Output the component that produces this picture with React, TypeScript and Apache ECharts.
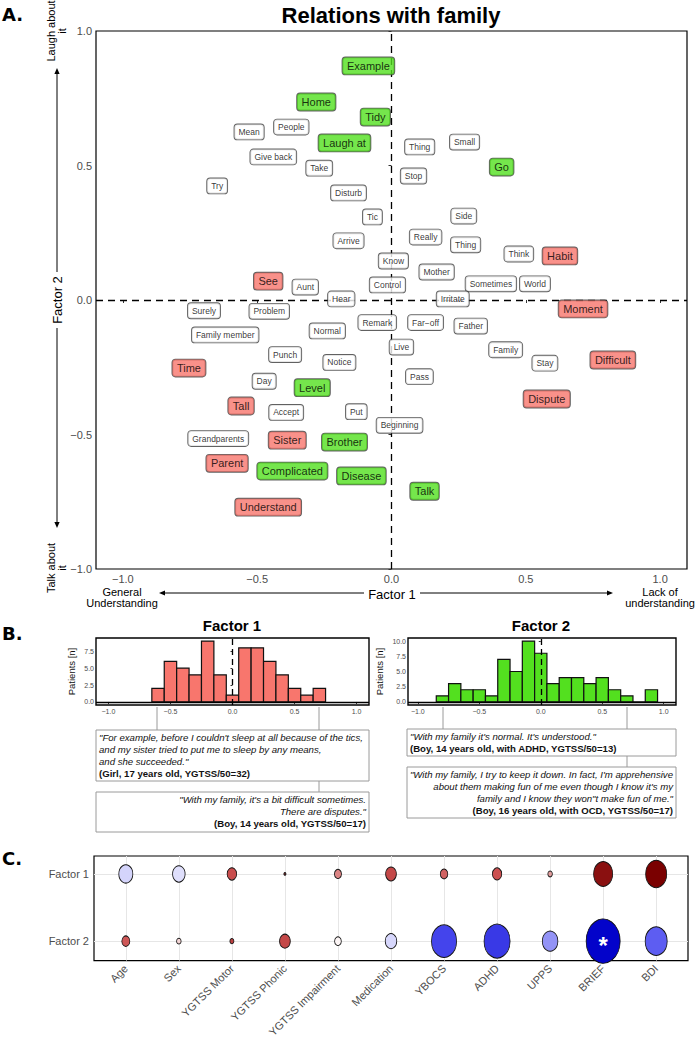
import React, { useEffect, useRef } from 'react';
import * as echarts from 'echarts';

const FONT = '"Liberation Sans", Arial, Helvetica, sans-serif';

// ---------- Panel A : word map ----------
const neutralWords = ['Mean', 'People', 'Thing', 'Small', 'Give back', 'Take', 'Stop', 'Try', 'Disturb', 'Tic', 'Side', 'Arrive', 'Really', 'Thing', 'Think', 'Know', 'Mother', 'Control', 'Sometimes', 'World', 'Aunt', 'Hear', 'Irritate', 'Surely', 'Problem', 'Remark', 'Far\u2212off', 'Father', 'Normal', 'Family member', 'Live', 'Family', 'Punch', 'Notice', 'Stay', 'Pass', 'Day', 'Accept', 'Put', 'Beginning', 'Grandparents'];
const neutralX = [-0.53, -0.373, 0.105, 0.272, -0.44, -0.269, 0.082, -0.649, -0.16, -0.071, 0.269, -0.16, 0.127, 0.276, 0.474, 0.007, 0.168, -0.015, 0.37, 0.534, -0.321, -0.187, 0.228, -0.698, -0.455, -0.053, 0.127, 0.295, -0.239, -0.619, 0.037, 0.425, -0.396, -0.194, 0.571, 0.104, -0.474, -0.392, -0.131, 0.03, -0.645];
const neutralY = [0.625, 0.643, 0.569, 0.587, 0.532, 0.49, 0.461, 0.424, 0.398, 0.309, 0.312, 0.22, 0.234, 0.205, 0.171, 0.145, 0.104, 0.056, 0.06, 0.06, 0.048, 0.004, 0.004, -0.04, -0.042, -0.084, -0.084, -0.097, -0.115, -0.13, -0.175, -0.185, -0.203, -0.232, -0.235, -0.285, -0.302, -0.418, -0.415, -0.466, -0.515];

const f1Words = ['See', 'Habit', 'Moment', 'Difficult', 'Time', 'Dispute', 'Tall', 'Sister', 'Parent', 'Understand'];
const f1X = [-0.459, 0.627, 0.713, 0.824, -0.754, 0.578, -0.56, -0.388, -0.612, -0.459];
const f1Y = [0.07, 0.164, -0.033, -0.223, -0.253, -0.368, -0.394, -0.521, -0.607, -0.77];

const f2Words = ['Example', 'Home', 'Tidy', 'Laugh at', 'Go', 'Level', 'Brother', 'Complicated', 'Disease', 'Talk'];
const f2X = [-0.086, -0.28, -0.06, -0.175, 0.41, -0.295, -0.175, -0.369, -0.112, 0.123];
const f2Y = [0.87, 0.736, 0.68, 0.584, 0.494, -0.326, -0.528, -0.636, -0.654, -0.711];

const mapTicks = [-1, -0.5, 0, 0.5, 1];

// ---------- Panel B : histograms ----------
const binWidth = 0.1;
const f1BinCenters = [-0.6, -0.5, -0.4, -0.3, -0.2, -0.1, 0, 0.1, 0.2, 0.3, 0.4, 0.5, 0.6, 0.7];
const f1Counts = [2, 6, 5, 4, 9, 4, 1, 8, 8, 6, 4, 2, 1, 2];
const f2BinCenters = [-0.8, -0.7, -0.6, -0.5, -0.4, -0.3, -0.2, -0.1, 0, 0.1, 0.2, 0.3, 0.4, 0.5, 0.6, 0.7, 0.8, 0.9];
const f2Counts = [1, 3, 2, 2, 1, 7, 5, 10, 8, 3, 4, 4, 3, 4, 2, 1, 0, 2];
const histXTicks = [-1, -0.5, 0, 0.5, 1];
const hist1YTicks = [0, 2.5, 5, 7.5];
const hist2YTicks = [0, 2.5, 5, 7.5, 10];

// ---------- Panel C : associations ----------
const clinicalVars = ['Age', 'Sex', 'YGTSS Motor', 'YGTSS Phonic', 'YGTSS Impairment', 'Medication', 'YBOCS', 'ADHD', 'UPPS', 'BRIEF', 'BDI'];
const factorRows = ['Factor 2', 'Factor 1'];
const f1Estimate = [-0.12, -0.09, 0.52, 0.7, 0.35, 0.55, 0.45, 0.5, 0.28, 0.9, 1.0];
const f1Strength = [1.4, 1.25, 0.95, 0.2, 0.7, 1.07, 0.75, 0.93, 0.45, 1.9, 2.1];
const f2Estimate = [0.48, 0.12, 0.6, 0.55, 0.03, -0.11, -0.55, -0.62, -0.3, -0.98, -0.45];
const f2Strength = [0.8, 0.45, 0.4, 1.07, 0.67, 1.15, 2.5, 2.6, 1.55, 3.4, 2.2];
const significant = ['BRIEF|Factor 2'];

const GREEN = '#53E01F';
const RED = '#F8766D';

const fmtNum = (v: number) => (v < 0 ? '\u2212' : '') + Math.abs(v).toFixed(1);

function wordSeries(words: string[], xs: number[], ys: number[], fill: string, big: boolean) {
  return {
    type: 'scatter',
    xAxisIndex: 0,
    yAxisIndex: 0,
    z: 5,
    silent: true,
    symbolSize: 1,
    itemStyle: { color: 'rgba(0,0,0,0)' },
    data: words.map((w, i) => ({ name: w, value: [xs[i], ys[i]] })),
    label: {
      show: true,
      position: 'inside',
      formatter: '{b}',
      fontFamily: FONT,
      fontSize: big ? 11 : 8.5,
      lineHeight: big ? 12 : 10,
      color: '#000',
      backgroundColor: fill,
      borderColor: '#3a3a3a',
      borderWidth: 0.9,
      borderRadius: 3,
      padding: big ? [2.5, 4.5] : [2.5, 4],
    },
  };
}

function histSeries(axisIndex: number, centers: number[], counts: number[], fill: string) {
  return {
    type: 'custom',
    xAxisIndex: axisIndex,
    yAxisIndex: axisIndex,
    z: 4,
    silent: true,
    data: centers.map((c, i) => [c, counts[i]]),
    renderItem: (params: any, api: any) => {
      const x = api.value(0);
      const c = api.value(1);
      const p0 = api.coord([x - binWidth / 2, c]);
      const p1 = api.coord([x + binWidth / 2, 0]);
      return {
        type: 'rect',
        shape: { x: p0[0], y: p0[1], width: p1[0] - p0[0], height: p1[1] - p0[1] },
        style: { fill, stroke: '#111', lineWidth: 1.2 },
      };
    },
  };
}

function refLines(axisIndex: number, data: any[], lineStyle: any, z: number) {
  return {
    type: 'scatter',
    xAxisIndex: axisIndex,
    yAxisIndex: axisIndex,
    z,
    silent: true,
    symbolSize: 0,
    data: [],
    markLine: {
      silent: true,
      symbol: ['none', 'none'],
      label: { show: false },
      animation: false,
      lineStyle,
      data,
    },
  };
}

function arrow(x1: number, y1: number, x2: number, y2: number) {
  const dx = x2 - x1;
  const dy = y2 - y1;
  const len = Math.sqrt(dx * dx + dy * dy);
  const ux = dx / len;
  const uy = dy / len;
  const bx = x2 - ux * 6;
  const by = y2 - uy * 6;
  const nx = -uy * 2.6;
  const ny = ux * 2.6;
  return [
    { type: 'line', shape: { x1, y1, x2: bx, y2: by }, style: { stroke: '#000', lineWidth: 1 }, silent: true },
    { type: 'polygon', shape: { points: [[x2, y2], [bx + nx, by + ny], [bx - nx, by - ny]] }, style: { fill: '#000' }, silent: true },
  ];
}

function txt(x: number, y: number, text: string, opts: any = {}) {
  const { rotation, ...style } = opts;
  return {
    type: 'text',
    x,
    y,
    rotation: rotation || 0,
    silent: true,
    style: {
      text,
      fontFamily: FONT,
      fontSize: 11,
      fill: '#000',
      align: 'center',
      verticalAlign: 'middle',
      ...style,
    },
  };
}

function quoteBox(x: number, y: number, w: number, h: number, lines: string[], boldLine: string, right: boolean, firstY: number) {
  const els: any[] = [
    { type: 'rect', shape: { x, y, width: w, height: h }, style: { fill: '#fff', stroke: '#9a9a9a', lineWidth: 1 }, silent: true },
  ];
  const tx = right ? x + w - 3 : x + 3;
  const all = [...lines, boldLine];
  const gap = 12;
  all.forEach((l, i) => {
    const isBold = i === all.length - 1;
    els.push(
      txt(tx, firstY + i * gap, l, {
        align: right ? 'right' : 'left',
        fontSize: 9.6,
        fontStyle: isBold ? 'normal' : 'italic',
        fontWeight: isBold ? 'bold' : 'normal',
        fill: '#111',
      })
    );
  });
  return els;
}

function connector(x: number, y0: number, y1: number, dotted?: [number, number], y2?: number) {
  const els: any[] = [
    { type: 'line', shape: { x1: x, y1: y0, x2: x, y2: y1 }, style: { stroke: '#9a9a9a', lineWidth: 1 }, silent: true },
  ];
  if (dotted && y2 !== undefined) {
    els.push({ type: 'line', shape: { x1: x, y1: dotted[0], x2: x, y2: dotted[1] }, style: { stroke: '#9a9a9a', lineWidth: 1, lineDash: [1, 2] }, silent: true });
    els.push({ type: 'line', shape: { x1: x, y1: dotted[1], x2: x, y2: y2 }, style: { stroke: '#9a9a9a', lineWidth: 1 }, silent: true });
  }
  return els;
}

export default function App() {
  const ref = useRef<HTMLDivElement>(null);

  useEffect(() => {
    if (!ref.current) return;
    const chart = echarts.init(ref.current, undefined, { renderer: 'svg' });

    const tickLabelA = { fontFamily: FONT, fontSize: 11, color: '#4d4d4d' };
    const smallTick = { fontFamily: FONT, fontSize: 7, color: '#4d4d4d' };

    const cData: any[] = [];
    clinicalVars.forEach((v, i) => {
      const k1 = v + '|Factor 1';
      const k2 = v + '|Factor 2';
      cData.push({ value: [i, 1, f1Estimate[i], f1Strength[i]], name: k1, label: { show: significant.includes(k1) } });
      cData.push({ value: [i, 0, f2Estimate[i], f2Strength[i]], name: k2, label: { show: significant.includes(k2) } });
    });

    const series: any[] = [
      // panel A
      refLines(0, [{ xAxis: 0 }, { yAxis: 0 }], { type: [7, 5], color: '#000', width: 1.3 }, 1),
      wordSeries(neutralWords, neutralX, neutralY, '#ffffff', false),
      wordSeries(f1Words, f1X, f1Y, RED, true),
      wordSeries(f2Words, f2X, f2Y, GREEN, true),
      // panel B
      refLines(1, [{ xAxis: 0 }], { type: [6, 4], color: '#000', width: 1.3 }, 1),
      histSeries(1, f1BinCenters, f1Counts, RED),
      refLines(1, [{ yAxis: 0 }], { type: 'solid', color: '#000', width: 1.3 }, 6),
      refLines(2, [{ xAxis: 0 }], { type: [6, 4], color: '#000', width: 1.3 }, 1),
      histSeries(2, f2BinCenters, f2Counts, GREEN),
      refLines(2, [{ yAxis: 0 }], { type: 'solid', color: '#000', width: 1.3 }, 6),
      // panel C grid lines
      refLines(
        3,
        [...clinicalVars.map((_, i) => ({ xAxis: i })), { yAxis: 0 }, { yAxis: 1 }],
        { type: 'solid', color: '#e6e6e6', width: 1 },
        1
      ),
    ];
    const cIndex = series.length;
    series.push({
      type: 'scatter',
      xAxisIndex: 3,
      yAxisIndex: 3,
      z: 5,
      silent: true,
      clip: false,
      data: cData,
      symbolSize: (val: number[]) => {
        const s = Math.max(val[3] * 10, 2);
        return [s, s * 1.3];
      },
      itemStyle: { borderColor: '#111', borderWidth: 0.9, opacity: 1 },
      label: {
        position: 'inside',
        formatter: '*',
        color: '#fff',
        fontSize: 24,
        fontWeight: 'bold',
        fontFamily: FONT,
        offset: [0, 4],
      },
    });

    const graphic: any[] = [
      // Panel A
      txt(2, 14, 'A.', { align: 'left', fontSize: 18, fontWeight: 'bold', fontFamily: '"DejaVu Sans", sans-serif' }),
      txt(391, 15, 'Relations with family', { fontSize: 22, fontWeight: 'bold' }),
      txt(56, 31, 'Laugh about\nit', { rotation: Math.PI / 2, fontSize: 11, lineHeight: 11 }),
      txt(56, 568, 'Talk about\nit', { rotation: Math.PI / 2, fontSize: 11, lineHeight: 11 }),
      txt(57, 300, 'Factor 2', { rotation: Math.PI / 2, fontSize: 13 }),
      ...arrow(57, 272, 57, 68),
      ...arrow(57, 328, 57, 528),
      txt(392, 594, 'Factor 1', { fontSize: 13 }),
      ...arrow(364, 593, 159, 593),
      ...arrow(420, 593, 613, 593),
      txt(122, 597, 'General\nUnderstanding', { fontSize: 11, lineHeight: 11 }),
      txt(660, 597, 'Lack of\nunderstanding', { fontSize: 11, lineHeight: 11 }),
      // Panel B
      txt(2, 633, 'B.', { align: 'left', fontSize: 18, fontWeight: 'bold', fontFamily: '"DejaVu Sans", sans-serif' }),
      txt(232, 625, 'Factor 1', { fontSize: 15, fontWeight: 'bold' }),
      txt(541, 625, 'Factor 2', { fontSize: 15, fontWeight: 'bold' }),
      ...connector(157, 707, 730),
      ...connector(319, 707, 730, [730, 781], 792),
      ...connector(443, 707, 729),
      ...connector(627, 707, 729, [729, 756], 767),
      ...quoteBox(96, 730, 273, 51, [
        '"For example, before I couldn\'t sleep at all because of the tics,',
        'and my sister tried to put me to sleep by any means,',
        'and she succeeded."',
      ], '(Girl, 17 years old, YGTSS/50=32)', false, 737),
      ...quoteBox(96, 792, 273, 40, [
        '"With my family, it\'s a bit difficult sometimes.',
        'There are disputes."',
      ], '(Boy, 14 years old, YGTSS/50=17)', true, 799),
      ...quoteBox(407, 729, 269, 27, [
        '"With my family it\'s normal. It\'s understood."',
      ], '(Boy, 14 years old, with ADHD, YGTSS/50=13)', false, 736),
      ...quoteBox(407, 767, 269, 51, [
        '"With my family, I try to keep it down. In fact, I\'m apprehensive',
        'about them making fun of me even though I know it\'s my',
        'family and I know they won"t make fun of me."',
      ], '(Boy, 16 years old, with OCD, YGTSS/50=17)', true, 774),
      // Panel C
      txt(2, 858, 'C.', { align: 'left', fontSize: 18, fontWeight: 'bold', fontFamily: '"DejaVu Sans", sans-serif' }),
    ];

    const option: any = {
      animation: false,
      backgroundColor: '#ffffff',
      textStyle: { fontFamily: FONT },
      grid: [
        { left: 96, top: 31, width: 591, height: 538, show: true, borderColor: '#000', borderWidth: 1.2, backgroundColor: 'transparent' },
        { left: 96, top: 638, width: 273, height: 67, show: true, borderColor: '#000', borderWidth: 1.4, backgroundColor: 'transparent' },
        { left: 408, top: 638, width: 268, height: 67, show: true, borderColor: '#000', borderWidth: 1.4, backgroundColor: 'transparent' },
        { left: 94, top: 856, width: 594, height: 140, show: true, borderColor: '#000', borderWidth: 1.2, backgroundColor: 'transparent' },
      ],
      xAxis: [
        {
          type: 'value', gridIndex: 0, min: -1.1, max: 1.1,
          axisLine: { show: false }, splitLine: { show: false },
          axisTick: { show: true, customValues: mapTicks, length: 3, lineStyle: { color: '#333' } },
          axisLabel: { customValues: mapTicks, formatter: fmtNum, margin: 4, ...tickLabelA },
        },
        {
          type: 'value', gridIndex: 1, min: -1.1, max: 1.1,
          axisLine: { show: false }, splitLine: { show: false },
          axisTick: { show: true, customValues: histXTicks, length: 2, lineStyle: { color: '#333' } },
          axisLabel: { customValues: histXTicks, formatter: fmtNum, margin: 3, ...smallTick },
        },
        {
          type: 'value', gridIndex: 2, min: -1.08, max: 1.1,
          axisLine: { show: false }, splitLine: { show: false },
          axisTick: { show: true, customValues: histXTicks, length: 2, lineStyle: { color: '#333' } },
          axisLabel: { customValues: histXTicks, formatter: fmtNum, margin: 3, ...smallTick },
        },
        {
          type: 'value', gridIndex: 3, min: -0.6, max: 10.6,
          axisLine: { show: false }, splitLine: { show: false },
          axisTick: { show: true, customValues: clinicalVars.map((_, i) => i), length: 3, lineStyle: { color: '#333' } },
          axisLabel: {
            customValues: clinicalVars.map((_, i) => i),
            formatter: (v: number) => clinicalVars[Math.round(v)] ?? '',
            rotate: 45, margin: 6, fontFamily: FONT, fontSize: 11, color: '#4d4d4d',
          },
        },
      ],
      yAxis: [
        {
          type: 'value', gridIndex: 0, min: -1, max: 1,
          axisLine: { show: false }, splitLine: { show: false },
          axisTick: { show: true, customValues: mapTicks, length: 3, lineStyle: { color: '#333' } },
          axisLabel: { customValues: mapTicks, formatter: fmtNum, margin: 4, ...tickLabelA },
        },
        {
          type: 'value', gridIndex: 1, min: -0.45, max: 9.45,
          axisLine: { show: false }, splitLine: { show: false },
          name: 'Patients [n]', nameLocation: 'middle', nameGap: 20, nameRotate: 90,
          nameTextStyle: { fontFamily: FONT, fontSize: 9.5, color: '#111' },
          axisTick: { show: true, customValues: hist1YTicks, length: 2, lineStyle: { color: '#333' } },
          axisLabel: { customValues: hist1YTicks, formatter: (v: number) => v.toFixed(1), margin: 2, ...smallTick },
        },
        {
          type: 'value', gridIndex: 2, min: -0.5, max: 10.5,
          axisLine: { show: false }, splitLine: { show: false },
          name: 'Patients [n]', nameLocation: 'middle', nameGap: 24, nameRotate: 90,
          nameTextStyle: { fontFamily: FONT, fontSize: 9.5, color: '#111' },
          axisTick: { show: true, customValues: hist2YTicks, length: 2, lineStyle: { color: '#333' } },
          axisLabel: { customValues: hist2YTicks, formatter: (v: number) => v.toFixed(1), margin: 2, ...smallTick },
        },
        {
          type: 'value', gridIndex: 3, min: -0.289, max: 1.267,
          axisLine: { show: false }, splitLine: { show: false },
          axisTick: { show: true, customValues: [0, 1], length: 3, lineStyle: { color: '#333' } },
          axisLabel: {
            customValues: [0, 1],
            formatter: (v: number) => factorRows[Math.round(v)] ?? '',
            margin: 5, fontFamily: FONT, fontSize: 11, color: '#4d4d4d',
          },
        },
      ],
      visualMap: [
        {
          type: 'continuous',
          show: false,
          seriesIndex: cIndex,
          dimension: 2,
          min: -1,
          max: 1,
          inRange: { color: ['#0000c8', '#4b4bf0', '#ffffff', '#cc5050', '#7a0000'] },
        },
      ],
      series,
      graphic,
    };

    chart.setOption(option);
    return () => chart.dispose();
  }, []);

  return <div ref={ref} style={{ position: 'absolute', left: 0, top: 0, width: 696, height: 1040 }} />;
}
